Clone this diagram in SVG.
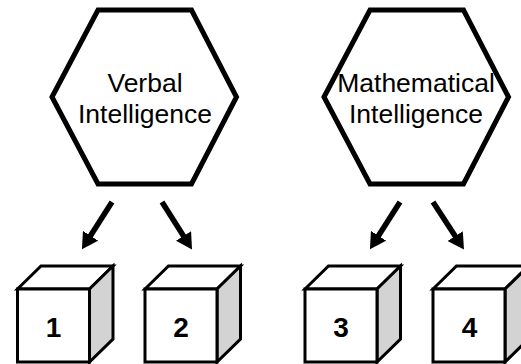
<svg xmlns="http://www.w3.org/2000/svg" width="521" height="364" viewBox="0 0 521 364">
<style>
.hex{fill:#fff;stroke:#000;stroke-width:5;stroke-linejoin:miter}
.lbl{font-family:"Liberation Sans",Arial,sans-serif;font-size:26.5px;fill:#000;text-anchor:middle}
.face{fill:#fff;stroke:#000;stroke-width:3;stroke-linejoin:miter}
.side{fill:#d3d3d3;stroke:#000;stroke-width:3;stroke-linejoin:miter}
.num{font-family:"Liberation Sans",Arial,sans-serif;font-size:28px;font-weight:bold;fill:#000;text-anchor:middle}
.arr{stroke:#000;stroke-width:5.5;fill:none;marker-end:url(#ah)}
</style>
<defs>
<marker id="ah" viewBox="0 0 16 18" refX="1" refY="9" markerWidth="16" markerHeight="18" markerUnits="userSpaceOnUse" orient="auto">
<path d="M0,0 L16,9 L0,18 Z" fill="#000"/>
</marker>
</defs>
<rect width="521" height="364" fill="#fff"/>
<g id="hex-verbal">
<polygon class="hex" points="52,97 98,10 191.5,10 236.5,97 191.5,184 98,184"/>
<text class="lbl" x="145" y="92">Verbal</text>
<text class="lbl" x="145" y="122.5">Intelligence</text>
</g>
<g id="hex-math">
<polygon class="hex" points="324,97 370,10 463.5,10 508.5,97 463.5,184 370,184"/>
<text class="lbl" x="416" y="92">Mathematical</text>
<text class="lbl" x="416" y="122.5">Intelligence</text>
</g>
<g id="connectors">
<line class="arr" x1="112" y1="202" x2="90" y2="236.6"/>
<line class="arr" x1="162" y1="202" x2="184" y2="236.8"/>
<line class="arr" x1="400" y1="202" x2="378" y2="236.6"/>
<line class="arr" x1="433" y1="202" x2="455.8" y2="236.9"/>
</g>
<g id="cube-1">
<polygon class="face" points="17.5,289 41,266 113,266 89.5,289"/>
<polygon class="side" points="89.5,289 113,266 113,339 89.5,362"/>
<rect class="face" x="17.5" y="289" width="72" height="73"/>
<text class="num" x="53.5" y="337">1</text>
</g>
<g id="cube-2">
<polygon class="face" points="145,289 168.5,266 240.5,266 217,289"/>
<polygon class="side" points="217,289 240.5,266 240.5,339 217,362"/>
<rect class="face" x="145" y="289" width="72" height="73"/>
<text class="num" x="181" y="337">2</text>
</g>
<g id="cube-3">
<polygon class="face" points="305,289 328.5,266 400.5,266 377,289"/>
<polygon class="side" points="377,289 400.5,266 400.5,339 377,362"/>
<rect class="face" x="305" y="289" width="72" height="73"/>
<text class="num" x="341" y="337">3</text>
</g>
<g id="cube-4">
<polygon class="face" points="433,289 456.5,266 528.5,266 505,289"/>
<polygon class="side" points="505,289 528.5,266 528.5,339 505,362"/>
<rect class="face" x="433" y="289" width="72" height="73"/>
<text class="num" x="469.5" y="337">4</text>
</g>
</svg>
